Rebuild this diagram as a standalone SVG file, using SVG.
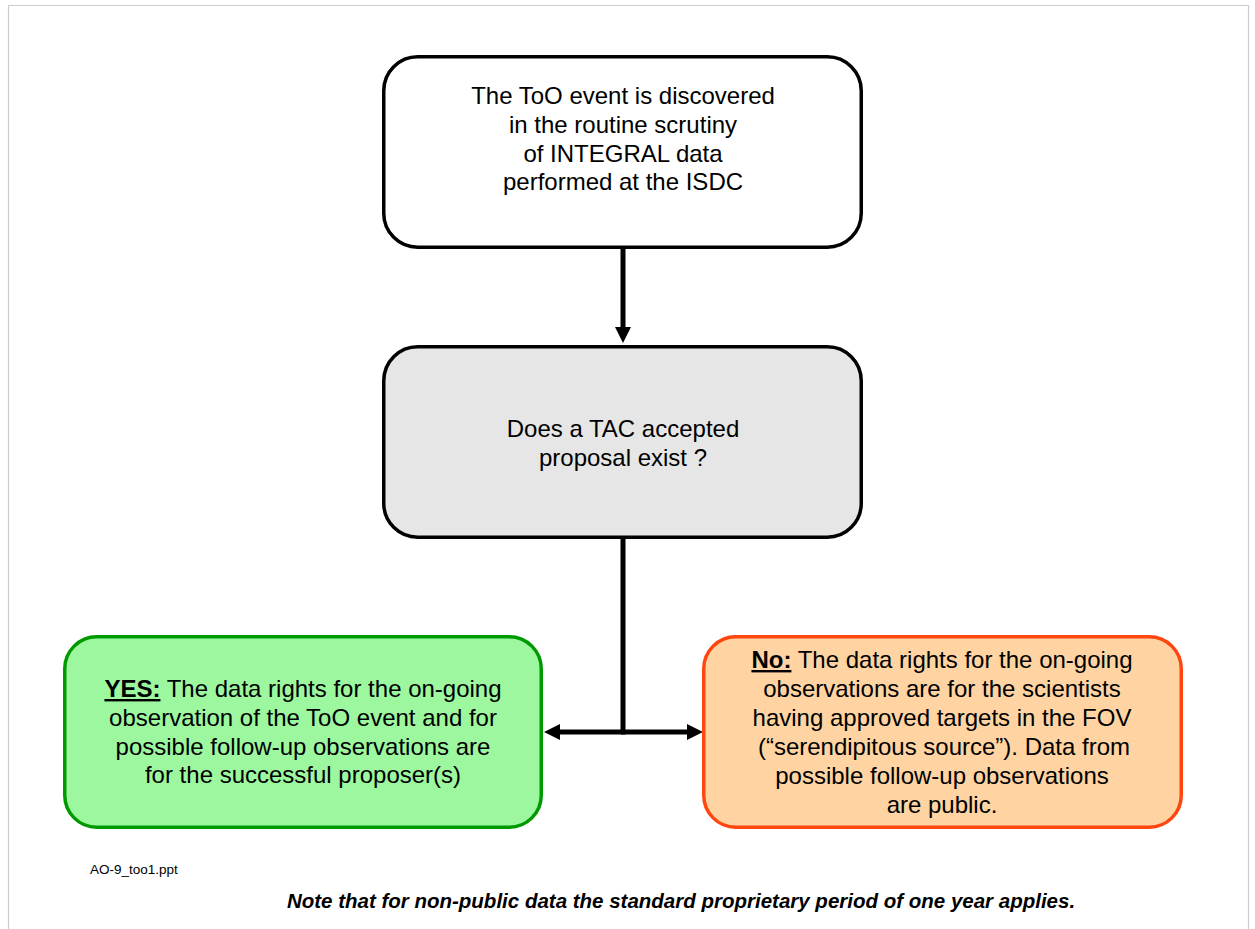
<svg xmlns="http://www.w3.org/2000/svg" width="1255" height="929" viewBox="0 0 1255 929">
<style>
.box{stroke-width:3.5}
.t{font-family:"Liberation Sans",Arial,sans-serif;font-size:24px;fill:#000;text-anchor:middle}
.b{font-weight:bold;text-decoration:underline}
.conn{stroke:#000;stroke-width:5;fill:none}
</style>
<defs>
<marker id="ah" markerUnits="userSpaceOnUse" markerWidth="16" markerHeight="16" refX="0" refY="7.5" orient="auto" viewBox="0 0 15 15">
<path d="M0,0 L15,7.5 L0,15 z" fill="#000"/>
</marker>
</defs>
<rect width="1255" height="929" fill="#fff"/>
<path d="M8.5,940 V5.5 H1248.5 V940" fill="none" stroke="#cccccc" stroke-width="1.2"/>
<g id="connectors">
<line class="conn" x1="623" y1="249" x2="623" y2="327" marker-end="url(#ah)"/>
<polyline class="conn" points="623,539 623,732 560,732" marker-end="url(#ah)"/>
<line class="conn" x1="621" y1="732" x2="687" y2="732" marker-end="url(#ah)"/>
</g>
<g id="node-discovery">
<rect class="box" x="383.75" y="56.75" width="477.5" height="190.5" rx="34" fill="#fff" stroke="#000"/>
<text class="t" x="623" y="104">The ToO event is discovered</text>
<text class="t" x="623" y="133">in the routine scrutiny</text>
<text class="t" x="623" y="162">of INTEGRAL data</text>
<text class="t" x="623" y="190">performed at the ISDC</text>
</g>
<g id="node-question">
<rect class="box" x="383.75" y="346.75" width="477.5" height="190.5" rx="34" fill="#e6e6e6" stroke="#000"/>
<text class="t" x="623" y="437">Does a TAC accepted</text>
<text class="t" x="623" y="466">proposal exist ?</text>
</g>
<g id="node-yes">
<rect class="box" x="64.75" y="636.75" width="476.5" height="190.5" rx="32" fill="#9cf79e" stroke="#009a00"/>
<text class="t" x="303" y="697"><tspan class="b">YES:</tspan> The data rights for the on-going</text>
<text class="t" x="303" y="726">observation of the ToO event and for</text>
<text class="t" x="303" y="755">possible follow-up observations are</text>
<text class="t" x="303" y="783">for the successful proposer(s)</text>
</g>
<g id="node-no">
<rect class="box" x="703.75" y="636.75" width="477.5" height="190.5" rx="32" fill="#ffd4a2" stroke="#ff4510"/>
<text class="t" x="942" y="668"><tspan class="b">No:</tspan> The data rights for the on-going</text>
<text class="t" x="942" y="697">observations are for the scientists</text>
<text class="t" x="942" y="726">having approved targets in the FOV</text>
<text class="t" x="944" y="755">(“serendipitous source”). Data from</text>
<text class="t" x="942" y="784">possible follow-up observations</text>
<text class="t" x="942" y="813">are public.</text>
</g>
<g id="footer">
<text x="90" y="874" font-family="'Liberation Sans',Arial,sans-serif" font-size="13.5" fill="#000">AO-9_too1.ppt</text>
<text x="681" y="908" font-family="'Liberation Sans',Arial,sans-serif" font-size="20.5" font-weight="bold" font-style="italic" text-anchor="middle" fill="#000">Note that for non-public data the standard proprietary period of one year applies.</text>
</g>
</svg>
